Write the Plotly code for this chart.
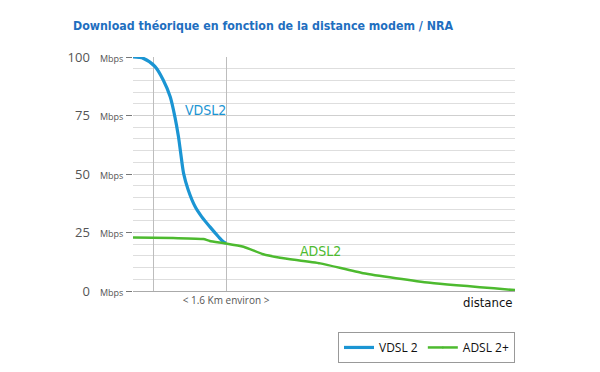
import plotly.graph_objects as go

# Data (distance in km, download in Mbps)
vdsl_km = [0, 0.18, 0.38, 0.52, 0.64, 0.72, 0.78, 0.82, 0.87, 0.95, 1.07, 1.18, 1.32, 1.47, 1.55, 1.6]
vdsl_mbps = [100, 99.4, 95.9, 90.2, 83.0, 74.5, 66.2, 59.0, 50.3, 43.2, 36.0, 31.8, 27.5, 23.2, 21.1, 20.4]

adsl_km = [0, 0.69, 1.21, 1.32, 1.58, 1.90, 2.24, 2.53, 3.22, 3.96, 5.11, 6.57]
adsl_mbps = [22.9, 22.6, 22.2, 21.4, 20.4, 18.9, 15.7, 14.2, 11.8, 7.6, 3.5, 0.4]

y_ticks = [0, 25, 50, 75, 100]
x_marks = [0.36, 1.6]
x_mark_labels = ["", "< 1.6 Km environ >"]

BLUE = "#1b95d3"
GREEN = "#4dba2f"
COND = "DejaVu Sans Condensed, Liberation Sans Narrow, Roboto Condensed, Roboto, sans-serif"

fig = go.Figure()
fig.add_trace(go.Scatter(x=vdsl_km, y=vdsl_mbps, mode="lines+markers", name="VDSL 2",
                         marker=dict(size=1, color=BLUE),
                         line=dict(color=BLUE, width=3.2, shape="spline", smoothing=0.8)))
fig.add_trace(go.Scatter(x=adsl_km, y=adsl_mbps, mode="lines+markers", name="ADSL 2+",
                         marker=dict(size=1, color=GREEN),
                         line=dict(color=GREEN, width=2.5, shape="spline", smoothing=0.5)))

ticktext = [f"{v}&nbsp;&nbsp;&nbsp;<span style='font-size:9px'>Mbps</span>" for v in y_ticks]

# the page body has an 8px default margin, so margins are reduced by 8px
fig.update_layout(
    width=600, height=372,
    margin=dict(l=125, r=93, t=49, b=89, autoexpand=False),
    paper_bgcolor="white", plot_bgcolor="white",
    showlegend=True,
    legend=dict(orientation="h", x=1, xanchor="right", y=-0.175, yanchor="top",
                bordercolor="#999", borderwidth=1, bgcolor="white",
                font=dict(family="Open Sans", size=12, color="#111"),
                itemwidth=30),
    title=dict(text="<b>Download théorique en fonction de la distance modem / NRA</b>",
               x=0.425, xanchor="center", y=0.952, yanchor="middle",
               font=dict(family=COND, size=12.3, color="#1f6fbf")),
    xaxis=dict(range=[0, 6.57], tickvals=x_marks, ticktext=x_mark_labels,
               showgrid=True, gridcolor="#bdbdbd", gridwidth=1, automargin=False,
               ticks="", tickfont=dict(family="Open Sans", size=10, color="#555"),
               showline=True, linecolor="#aaa", linewidth=1, zeroline=False),
    yaxis=dict(range=[0, 100], tickvals=y_ticks, ticktext=ticktext, automargin=False,
               showgrid=True, gridcolor="#cfcfcf", gridwidth=1,
               minor=dict(dtick=5, showgrid=True, gridcolor="#dedede", gridwidth=1),
               ticks="outside", ticklen=6, tickcolor="#777",
               tickfont=dict(family="Open Sans", size=13, color="#555"),
               showline=False, zeroline=False),
)

fig.add_annotation(text="VDSL2", x=0.86, y=77.4, xref="x", yref="y", xanchor="left",
                   showarrow=False, font=dict(family=COND, size=14, color=BLUE))
fig.add_annotation(text="ADSL2", x=2.84, y=17.1, xref="x", yref="y", xanchor="left",
                   showarrow=False, font=dict(family=COND, size=14, color=GREEN))
fig.add_annotation(text="distance", x=1, y=-0.051, xref="paper", yref="paper",
                   xanchor="right", yanchor="middle", showarrow=False,
                   font=dict(family=COND, size=13, color="#111"))

fig.write_html("out.html")
